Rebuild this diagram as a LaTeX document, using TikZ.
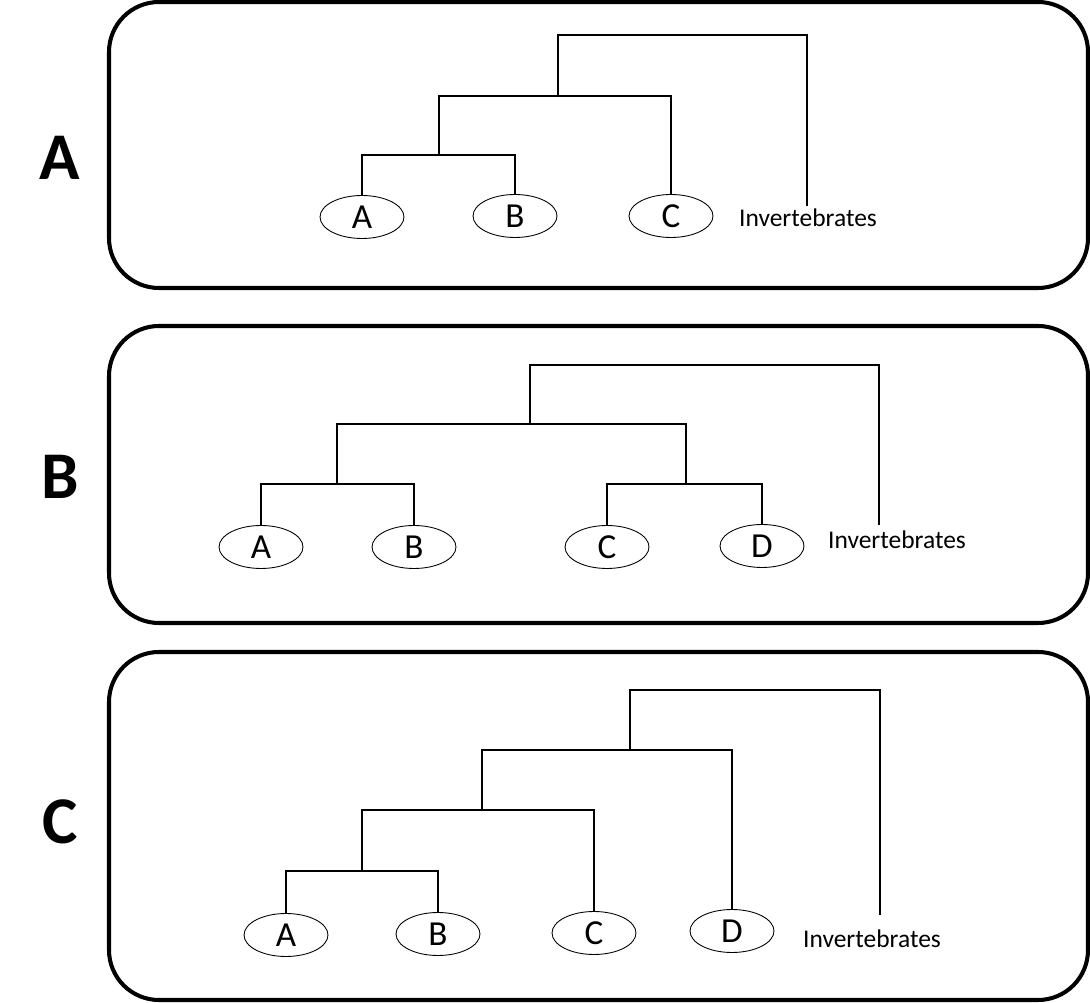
\documentclass[tikz,border=0pt]{standalone}
\usepackage{fontspec}
\setmainfont{Carlito}
\usetikzlibrary{shapes.geometric}
\begin{document}
\begin{tikzpicture}[x=0.02cm,y=-0.02cm,
  panel/.style={draw,line width=2.3pt,rounded corners=1cm},
  taxon/.style={draw,ellipse,line width=0.5pt,minimum width=1.68cm,minimum height=0.86cm,inner sep=0pt,font=\fontsize{20}{20}\selectfont},
  branch/.style={line width=1.1pt},
  outgroup/.style={font=\fontsize{14.5}{14.5}\selectfont},
  bigletter/.style={font=\fontsize{38}{38}\selectfont\bfseries}]
\useasboundingbox (0,0) rectangle (1090,1003);
% panels
\draw[panel] (109,2) rectangle (1088,288);
\draw[panel] (109,326) rectangle (1088,623);
\draw[panel] (109,652) rectangle (1088,1000);
\node[bigletter] (lA) at (60,158) {A};
\node[bigletter] (lB) at (60,477) {B};
\node[bigletter] (lC) at (60,822) {C};

% tree A
\node[taxon] (a1) at (362,217) {A};
\node[taxon] (b1) at (515,216) {B};
\node[taxon] (c1) at (671,216) {C};
\node[outgroup] (inv1) at (808,218) {Invertebrates};
\coordinate (ab1) at (439,155);
\coordinate (abc1) at (558,96);
\coordinate (r1) at (558,35);
\coordinate (t1) at (807,206);
\draw[branch] (a1.north) |- (ab1) -| (b1.north);
\draw[branch] (ab1) |- (abc1) -| (c1.north);
\draw[branch] (abc1) -- (r1) -| (t1);

% tree B
\node[taxon] (a2) at (261,547) {A};
\node[taxon] (b2) at (414,547) {B};
\node[taxon] (c2) at (607,547) {C};
\node[taxon] (d2) at (762,546) {D};
\node[outgroup] (inv2) at (897,540) {Invertebrates};
\coordinate (ab2) at (337,484);
\coordinate (cd2) at (686,484);
\coordinate (abcd2) at (530,424);
\coordinate (r2) at (530,365);
\coordinate (t2) at (879,525);
\draw[branch] (a2.north) |- (ab2) -| (b2.north);
\draw[branch] (c2.north) |- (cd2) -| (d2.north);
\draw[branch] (ab2) |- (abcd2) -| (cd2);
\draw[branch] (abcd2) -- (r2) -| (t2);

% tree C
\node[taxon] (a3) at (286,935) {A};
\node[taxon] (b3) at (438,934) {B};
\node[taxon] (c3) at (594,933) {C};
\node[taxon] (d3) at (732,931) {D};
\node[outgroup] (inv3) at (872,939) {Invertebrates};
\coordinate (ab3) at (362,871);
\coordinate (abc3) at (482,810);
\coordinate (abcd3) at (630,750);
\coordinate (r3) at (630,690);
\coordinate (t3) at (880,915);
\draw[branch] (a3.north) |- (ab3) -| (b3.north);
\draw[branch] (ab3) |- (abc3) -| (c3.north);
\draw[branch] (abc3) |- (abcd3) -| (d3.north);
\draw[branch] (abcd3) -- (r3) -| (t3);
\end{tikzpicture}
\end{document}
